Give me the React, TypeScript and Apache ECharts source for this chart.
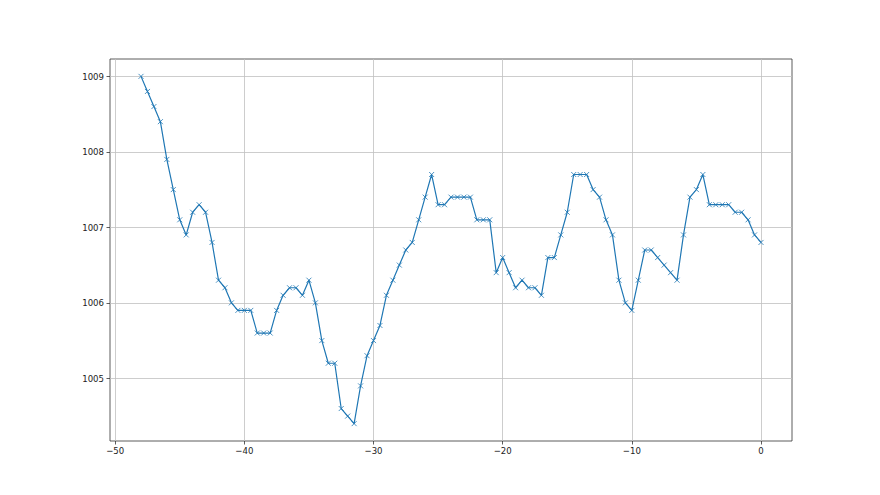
import React, { useEffect, useRef } from "react";
import * as echarts from "echarts";

const xValues: number[] = [
  -48, -47.5, -47, -46.5, -46, -45.5, -45, -44.5, -44, -43.5, -43, -42.5, -42, -41.5, -41, -40.5,
  -40, -39.5, -39, -38.5, -38, -37.5, -37, -36.5, -36, -35.5, -35, -34.5, -34, -33.5, -33, -32.5,
  -32, -31.5, -31, -30.5, -30, -29.5, -29, -28.5, -28, -27.5, -27, -26.5, -26, -25.5, -25, -24.5,
  -24, -23.5, -23, -22.5, -22, -21.5, -21, -20.5, -20, -19.5, -19, -18.5, -18, -17.5, -17, -16.5,
  -16, -15.5, -15, -14.5, -14, -13.5, -13, -12.5, -12, -11.5, -11, -10.5, -10, -9.5, -9, -8.5,
  -8, -7.5, -7, -6.5, -6, -5.5, -5, -4.5, -4, -3.5, -3, -2.5, -2, -1.5, -1, -0.5, 0,
];

const pressure: number[] = [
  1009.0, 1008.8, 1008.6, 1008.4, 1007.9, 1007.5, 1007.1, 1006.9, 1007.2, 1007.3, 1007.2, 1006.8, 1006.3, 1006.2, 1006.0, 1005.9,
  1005.9, 1005.9, 1005.6, 1005.6, 1005.6, 1005.9, 1006.1, 1006.2, 1006.2, 1006.1, 1006.3, 1006.0, 1005.5, 1005.2, 1005.2, 1004.6,
  1004.5, 1004.4, 1004.9, 1005.3, 1005.5, 1005.7, 1006.1, 1006.3, 1006.5, 1006.7, 1006.8, 1007.1, 1007.4, 1007.7, 1007.3, 1007.3,
  1007.4, 1007.4, 1007.4, 1007.4, 1007.1, 1007.1, 1007.1, 1006.4, 1006.6, 1006.4, 1006.2, 1006.3, 1006.2, 1006.2, 1006.1, 1006.6,
  1006.6, 1006.9, 1007.2, 1007.7, 1007.7, 1007.7, 1007.5, 1007.4, 1007.1, 1006.9, 1006.3, 1006.0, 1005.9, 1006.3, 1006.7, 1006.7,
  1006.6, 1006.5, 1006.4, 1006.3, 1006.9, 1007.4, 1007.5, 1007.7, 1007.3, 1007.3, 1007.3, 1007.3, 1007.2, 1007.2, 1007.1, 1006.9, 1006.8,
];

const xTicks: number[] = [-50, -40, -30, -20, -10, 0];
const yTicks: number[] = [1005, 1006, 1007, 1008, 1009];

const fmt = (v: number) => (v < 0 ? "\u2212" + String(Math.abs(v)) : String(v));

export default function App() {
  const ref = useRef<HTMLDivElement>(null);
  useEffect(() => {
    if (!ref.current) return;
    const chart = echarts.init(ref.current, undefined, { renderer: "svg" });
    const labelStyle = { color: "#222", fontSize: 9.5, fontFamily: "'Liberation Sans Narrow', 'DejaVu Sans Condensed', sans-serif" };
    chart.setOption({
      animation: false,
      backgroundColor: "#fff",
      grid: {
        left: 110,
        right: 88,
        top: 59,
        bottom: 54,
        show: true,
        borderColor: "#333",
        borderWidth: 0.8,
        backgroundColor: "transparent",
      },
      xAxis: {
        type: "value",
        min: -50.4,
        max: 2.4,
        axisLine: { show: false, onZero: false },
        axisTick: { show: true, length: 3.5, inside: false, customValues: xTicks, lineStyle: { color: "#333", width: 0.8 } },
        axisLabel: { ...labelStyle, margin: 4, customValues: xTicks, formatter: (v: number) => fmt(v) },
        splitLine: { show: true, lineStyle: { color: "#c0c0c0", width: 0.8 } },
      },
      yAxis: {
        type: "value",
        min: 1004.17,
        max: 1009.23,
        axisLine: { show: false, onZero: false },
        axisTick: { show: true, length: 3.5, inside: false, customValues: yTicks, lineStyle: { color: "#333", width: 0.8 } },
        axisLabel: { ...labelStyle, margin: 6, customValues: yTicks, formatter: (v: number) => String(v) },
        splitLine: { show: true, lineStyle: { color: "#c0c0c0", width: 0.8 } },
      },
      series: [
        {
          type: "line",
          data: xValues.map((x, i) => [x, pressure[i]]),
          symbol: "path://M0,0L10,10M10,0L0,10",
          symbolSize: 5,
          showAllSymbol: true,
          lineStyle: { color: "#1f77b4", width: 1.2 },
          itemStyle: { color: "#1f77b4", borderColor: "#1f77b4", borderWidth: 0.8 },
          emphasis: { disabled: true },
        },
      ],
    });
    return () => chart.dispose();
  }, []);
  return <div ref={ref} style={{ position: "absolute", left: 0, top: 0, width: 880, height: 495 }} />;
}
